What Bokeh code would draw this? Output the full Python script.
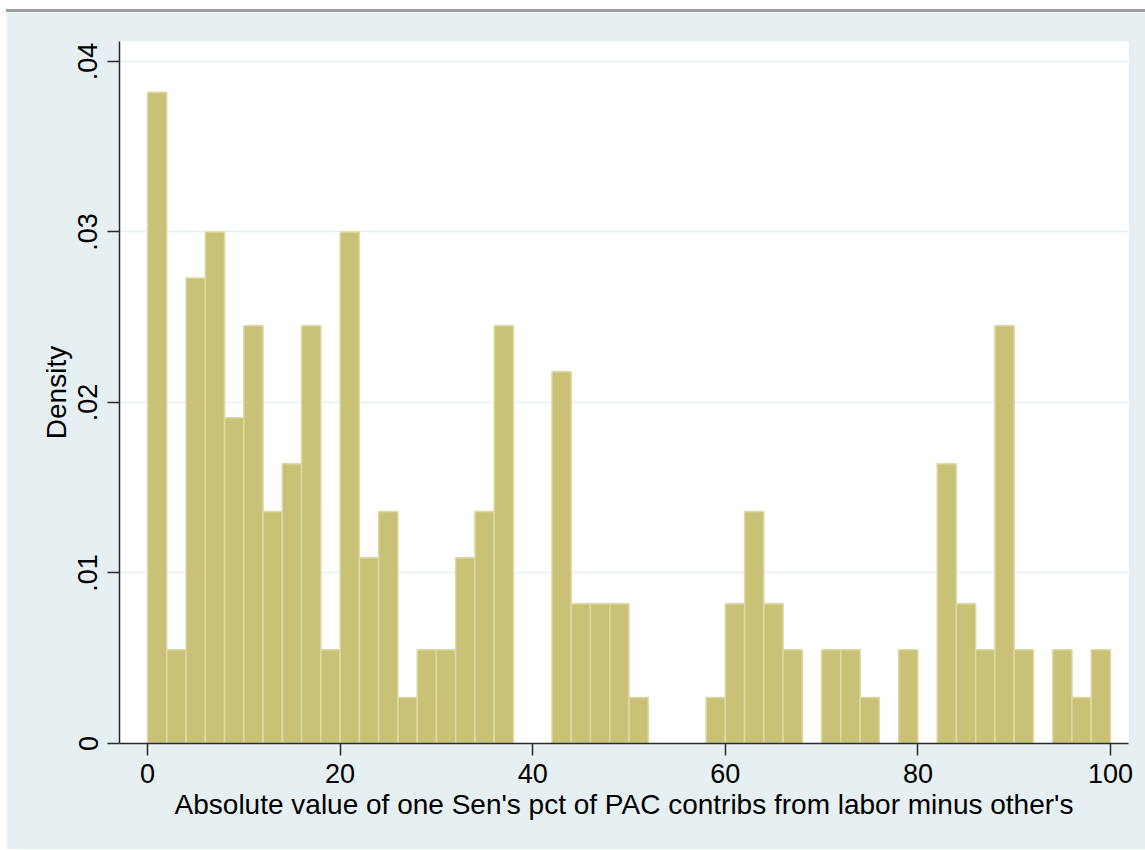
from bokeh.plotting import figure
from bokeh.models import FixedTicker, Div, ColumnDataSource
from bokeh.layouts import column
from bokeh.embed import file_html
from bokeh.resources import INLINE

# Histogram bins (left edge, width 2) and densities
bin_left = [0, 2, 4, 6, 8, 10, 12, 14, 16, 18,
            20, 22, 24, 26, 28, 30, 32, 34, 36, 38,
            40, 42, 44, 46, 48, 50, 52, 54, 56, 58,
            60, 62, 64, 66, 68, 70, 72, 74, 76, 78,
            80, 82, 84, 86, 88, 90, 92, 94, 96, 98]
bin_width = 2
density = [0.0382, 0.0055, 0.0273, 0.0300, 0.0191, 0.0245, 0.0136, 0.0164, 0.0245, 0.0055,
           0.0300, 0.0109, 0.0136, 0.0027, 0.0055, 0.0055, 0.0109, 0.0136, 0.0245, 0.0,
           0.0, 0.0218, 0.0082, 0.0082, 0.0082, 0.0027, 0.0, 0.0, 0.0, 0.0027,
           0.0082, 0.0136, 0.0082, 0.0055, 0.0, 0.0055, 0.0055, 0.0027, 0.0, 0.0055,
           0.0, 0.0164, 0.0082, 0.0055, 0.0245, 0.0055, 0.0, 0.0055, 0.0027, 0.0055]

x_ticks = [0, 20, 40, 60, 80, 100]
y_ticks = [0, 0.01, 0.02, 0.03, 0.04]
y_tick_labels = ["0", ".01", ".02", ".03", ".04"]
x_title = "Absolute value of one Sen's pct of PAC contribs from labor minus other's"
y_title = "Density"

FONT = "Liberation Sans"
BG = "#e6eff1"

lefts = [l for l, d in zip(bin_left, density) if d > 0]
tops = [d for d in density if d > 0]
src = ColumnDataSource(dict(left=lefts,
                            right=[l + bin_width for l in lefts],
                            top=tops))

p = figure(width=1139, height=837,
           x_range=(-2.91, 101.87), y_range=(0, 0.04117),
           output_backend="svg", toolbar_location=None,
           min_border_left=113, min_border_right=17,
           min_border_top=29, min_border_bottom=106)

p.border_fill_color = BG
p.background_fill_color = "white"
p.outline_line_color = None

p.quad(left="left", right="right", top="top", bottom=0, source=src,
       fill_color="#c9c176", line_color="#ddd9a6", line_width=1.5)

p.xgrid.visible = False
p.ygrid.ticker = FixedTicker(ticks=y_ticks)
p.ygrid.grid_line_color = "#e6eff1"
p.ygrid.grid_line_width = 1.5

p.xaxis.ticker = FixedTicker(ticks=x_ticks)
p.yaxis.ticker = FixedTicker(ticks=y_ticks)
p.yaxis.major_label_overrides = {t: s for t, s in zip(y_ticks, y_tick_labels)}
p.yaxis.major_label_orientation = "vertical"

for ax in (p.xaxis[0], p.yaxis[0]):
    ax.axis_line_color = "#2a2a2a"
    ax.axis_line_width = 1.5
    ax.major_tick_line_color = "#2a2a2a"
    ax.major_tick_line_width = 1.5
    ax.major_tick_out = 12
    ax.major_tick_in = 0
    ax.minor_tick_line_color = None
    ax.major_label_text_font = FONT
    ax.major_label_text_font_size = "27px"
    ax.major_label_text_color = "black"
    ax.axis_label_text_font = FONT
    ax.axis_label_text_font_size = "28px"
    ax.axis_label_text_font_style = "normal"
    ax.axis_label_text_color = "black"

p.xaxis.axis_label = x_title
p.yaxis.axis_label = y_title
p.xaxis.major_label_standoff = 8
p.xaxis.axis_label_standoff = 3
p.yaxis.major_label_standoff = 10
p.yaxis.axis_label_standoff = 4

stripe = Div(text="", width=1139, height=3, margin=0,
             styles={"background-color": "#9c9c9c", "overflow": "hidden"})

layout = column(stripe, p, spacing=0, margin=(9, 0, 0, 6))

open("out.html", "w").write(file_html(layout, INLINE))
